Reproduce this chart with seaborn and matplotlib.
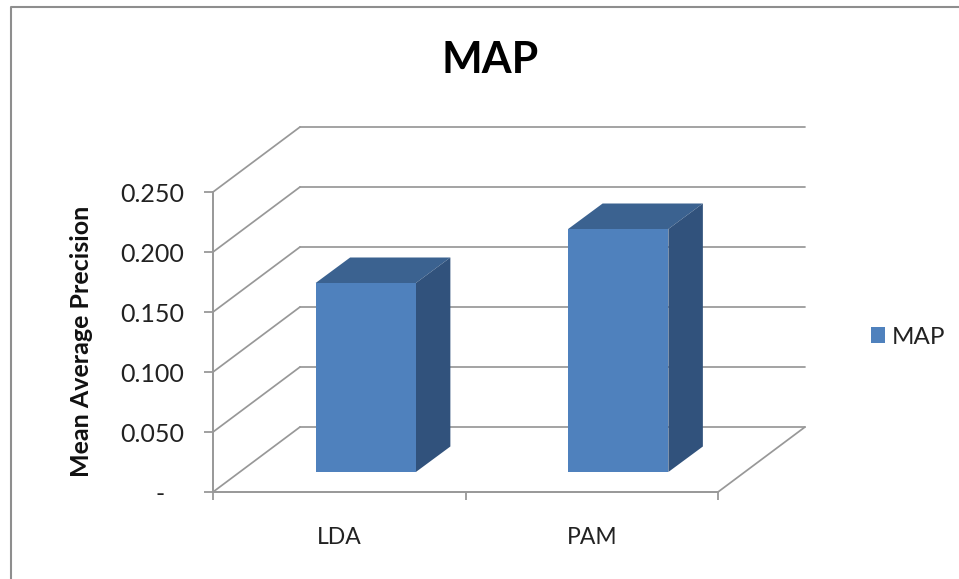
import matplotlib
matplotlib.use("Agg")
import matplotlib.pyplot as plt
from matplotlib.lines import Line2D
from matplotlib.patches import Polygon
from matplotlib.transforms import Affine2D, IdentityTransform
import pandas as pd
import seaborn as sns

# Values
categories = ["LDA", "PAM"]
map_values = [0.1575, 0.2025]
series_name = "MAP"
y_ticks = [0.0, 0.05, 0.10, 0.15, 0.20, 0.25]
y_tick_labels = ["-   ", "0.050", "0.100", "0.150", "0.200", "0.250"]

# Colours
FRONT = "#4F81BD"
TOP = "#3B6290"
SIDE = "#31527C"
GRID = "#989898"
FRAME = "#8E8E8E"
TEXT = "#222222"

W, H = 959, 579
DPI = 100

sns.set_theme(style="white")
plt.rcParams["font.family"] = ["Lato", "DejaVu Sans"]

fig = plt.figure(figsize=(W / DPI, H / DPI), dpi=DPI, facecolor="white")
ax = fig.add_axes([213 / W, (H - 492) / H, 505 / W, 300 / H])
ax.patch.set_alpha(0)

df = pd.DataFrame({"method": categories, "MAP": map_values,
                   "series": [series_name] * len(categories)})
sns.barplot(data=df, x="method", y="MAP", hue="series", palette=[FRONT],
            width=0.397, dodge=False, errorbar=None, ax=ax, zorder=4,
            linewidth=0, saturation=1)
ax.set_xlim(-0.5, 1.5)
ax.set_ylim(0, 0.25)


def shifted(dx, dy):
    """Data transform moved by a depth offset given in pixels."""
    return ax.transData + Affine2D().translate(dx, dy)


# Depth of the plot box and placement of the bars inside it
WALL_DX, WALL_DY = 87, 65
BAR_DX, BAR_DY = 26.5, 20
BOX_DX, BOX_DY = 34.5, 25.5

grid_style = dict(color=GRID, lw=1.25, solid_capstyle="round", zorder=1)

# Side wall and back wall gridlines
x_left, x_right = ax.get_xlim()
for v in y_ticks:
    px, py = ax.transData.transform((x_left, v))
    ax.add_line(Line2D([px, px + WALL_DX], [py, py + WALL_DY],
                       transform=IdentityTransform(), clip_on=False, **grid_style))
    ax.plot([x_left, x_right], [v, v], transform=shifted(WALL_DX, WALL_DY),
            clip_on=False, **grid_style)

# Right edge of the floor
px, py = ax.transData.transform((x_right, 0))
ax.add_line(Line2D([px, px + WALL_DX], [py, py + WALL_DY],
                   transform=IdentityTransform(), clip_on=False, **grid_style))

# Front faces come from the bar plot; the top and side faces extend them
to_display = ax.transData
for bar in ax.patches:
    bar.set_transform(shifted(BAR_DX, BAR_DY))
    bar.set_clip_on(False)
    x0, y1 = to_display.transform((bar.get_x(), bar.get_height()))
    x1, y0 = to_display.transform((bar.get_x() + bar.get_width(), 0))
    x0, x1 = x0 + BAR_DX, x1 + BAR_DX
    y0, y1 = y0 + BAR_DY, y1 + BAR_DY
    top = [(x0, y1), (x1, y1), (x1 + BOX_DX, y1 + BOX_DY), (x0 + BOX_DX, y1 + BOX_DY)]
    side = [(x1, y0), (x1 + BOX_DX, y0 + BOX_DY), (x1 + BOX_DX, y1 + BOX_DY), (x1, y1)]
    for verts, colour in ((top, TOP), (side, SIDE)):
        ax.add_patch(Polygon(verts, closed=True, facecolor=colour, edgecolor="none",
                             transform=IdentityTransform(), clip_on=False, zorder=3))

# Axes
for name in ("top", "right"):
    ax.spines[name].set_visible(False)
for name in ("left", "bottom"):
    ax.spines[name].set_color(GRID)
    ax.spines[name].set_linewidth(1.4)

ax.set_yticks(y_ticks, labels=y_tick_labels)
ax.set_xticks([-0.5, 0.5, 1.5], labels=[])
ax.set_xticks([0, 1], labels=categories, minor=True)
ax.tick_params(axis="y", which="major", left=True, length=6.5, width=1.3, color=GRID,
               pad=14.5, labelsize=18, labelcolor=TEXT)
ax.tick_params(axis="x", which="major", bottom=True, length=6, width=1.3, color=GRID)
ax.tick_params(axis="x", which="minor", bottom=False, length=0, pad=25,
               labelsize=16.5, labelcolor=TEXT)
ax.set_xlabel("")
ax.set_ylabel("Mean Average Precision", fontsize=18, fontweight="bold", color="#111111",
              labelpad=0)
ax.yaxis.set_label_coords((93 - 213) / 505, (492 - 341) / 300)

# Title
fig.text(490 / W, 1 - 60 / H, series_name, fontsize=31, fontweight="bold", color="black",
         ha="center", va="center")

# Legend
handles, labels = ax.get_legend_handles_labels()
ax.legend(handles, labels, loc="center left", bbox_to_anchor=(849 / W, 1 - 337 / H),
          bbox_transform=fig.transFigure, frameon=False, fontsize=17.4,
          handlelength=0.6, handleheight=0.6, handletextpad=0.27, labelcolor=TEXT)

# Chart area border, open at the right and bottom edges
fig.add_artist(Line2D([10.5 / W, 10.5 / W, 1], [0, 1 - 7 / H, 1 - 7 / H],
                      transform=fig.transFigure, color=FRAME, lw=1.5))

fig.savefig("out.png", dpi=DPI)
